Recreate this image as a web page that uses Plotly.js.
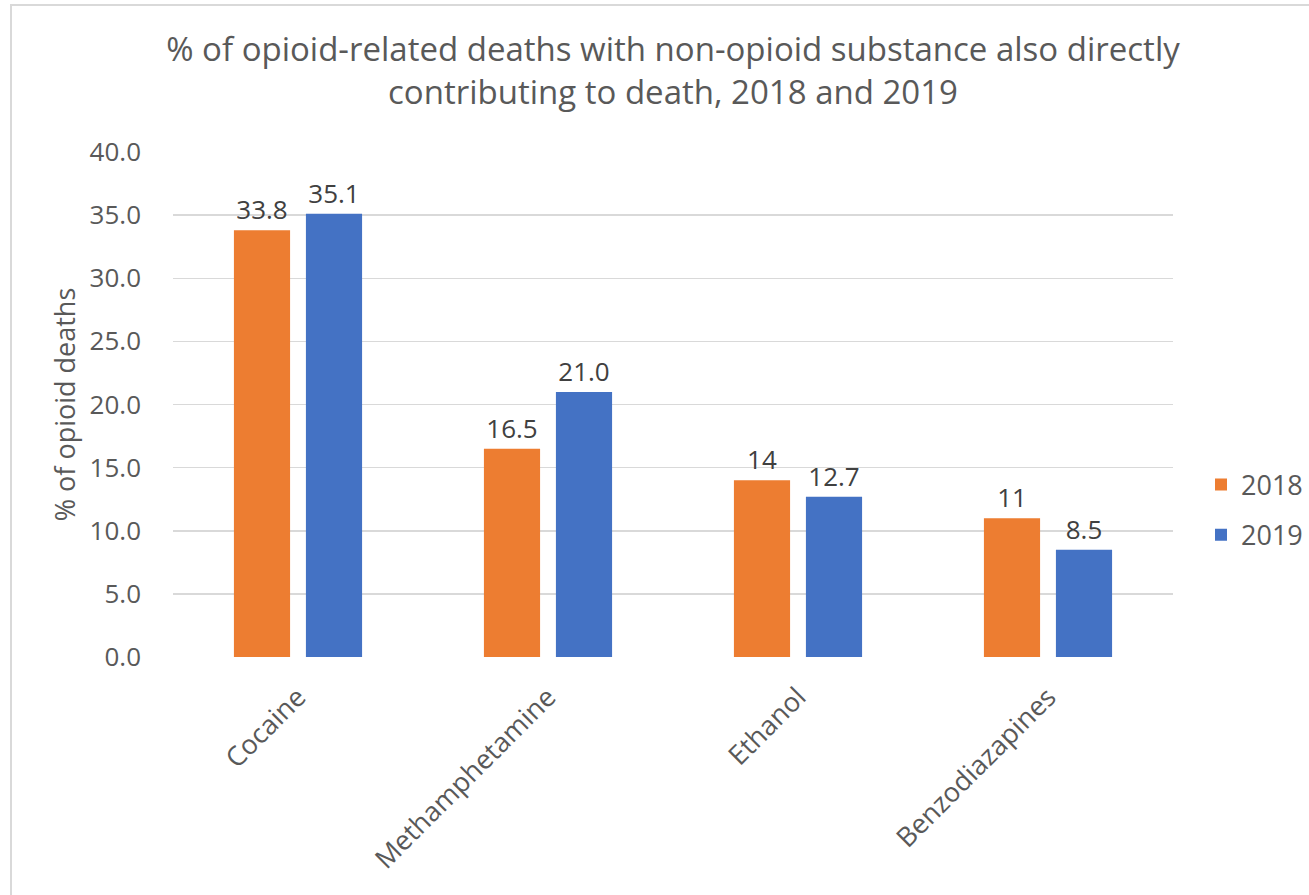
<!DOCTYPE html>
<html>
<head>
<meta charset="utf-8">
<script src="https://cdn.plot.ly/plotly-3.0.1.min.js"></script>
<style>
  html, body { margin: 0; padding: 0; background: #ffffff; }
  #frame {
    position: absolute; left: 10px; top: 4px; width: 1320px; height: 910px;
    border-left: 2px solid #d9d9d9; border-top: 2px solid #d9d9d9;
  }
  #chart { position: absolute; left: 0; top: 0; width: 1309px; height: 895px; }
</style>
</head>
<body>
<div id="frame"></div>
<div id="chart"></div>
<script>
// Substances and the share of opioid-related deaths they contributed to
const substances = ["Cocaine", "Methamphetamine", "Ethanol", "Benzodiazapines"];
const values2018 = [33.8, 16.5, 14, 11];
const values2019 = [35.1, 21.0, 12.7, 8.5];
const labels2018 = ["33.8", "16.5", "14", "11"];
const labels2019 = ["35.1", "21.0", "12.7", "8.5"];
const yTicks = [0, 5, 10, 15, 20, 25, 30, 35, 40];

const FONT = "Open Sans, Noto Sans, sans-serif";
const labelFont = { family: FONT, size: 26, color: "#404040" };

const traces = [
  {
    type: "bar", name: "2018", x: substances, y: values2018,
    text: labels2018, textposition: "outside", textfont: labelFont,
    cliponaxis: false, constraintext: "none", legendgroup: "a",
    marker: { color: "#ed7d31" }, hoverinfo: "x+y"
  },
  {
    type: "bar", name: "2019", x: substances, y: values2019,
    text: labels2019, textposition: "outside", textfont: labelFont,
    cliponaxis: false, constraintext: "none", legendgroup: "b",
    marker: { color: "#4472c4" }, hoverinfo: "x+y"
  }
];

const layout = {
  width: 1309, height: 895,
  margin: { l: 173, r: 136, t: 152, b: 238, autoexpand: false },
  paper_bgcolor: "rgba(0,0,0,0)", plot_bgcolor: "rgba(0,0,0,0)",
  font: { family: FONT, color: "#595959" },
  title: {
    text: "% of opioid-related deaths with non-opioid substance also directly<br>contributing to death, 2018 and 2019",
    font: { family: FONT, size: 33, color: "#595959" },
    x: 0.5, xanchor: "center", xref: "paper", yref: "container", y: 0.932, yanchor: "top"
  },
  barmode: "group", bargap: 0.424, bargroupgap: 0.22,
  xaxis: {
    tickangle: -45, tickfont: { family: FONT, size: 27, color: "#595959" },
    showgrid: false, zeroline: false, showline: false, ticks: "",
    ticklabelstandoff: 18
  },
  yaxis: {
    range: [0, 40], tickvals: yTicks, tickformat: ".1f",
    tickfont: { family: FONT, size: 26, color: "#595959" },
    gridcolor: "#d9d9d9", gridwidth: 1.5, zeroline: false, showline: false,
    ticklabelstandoff: 31,
    title: { text: "% of opioid deaths", font: { family: FONT, size: 27, color: "#595959" }, standoff: 6 }
  },
  legend: {
    x: 1.028, xanchor: "left", y: 0.291, yanchor: "middle",
    font: { family: FONT, size: 27, color: "#595959" },
    itemwidth: 30, tracegroupgap: 12, traceorder: "grouped"
  },
  showlegend: true
};

Plotly.newPlot("chart", traces, layout, { displayModeBar: false, staticPlot: true });
</script>
</body>
</html>
